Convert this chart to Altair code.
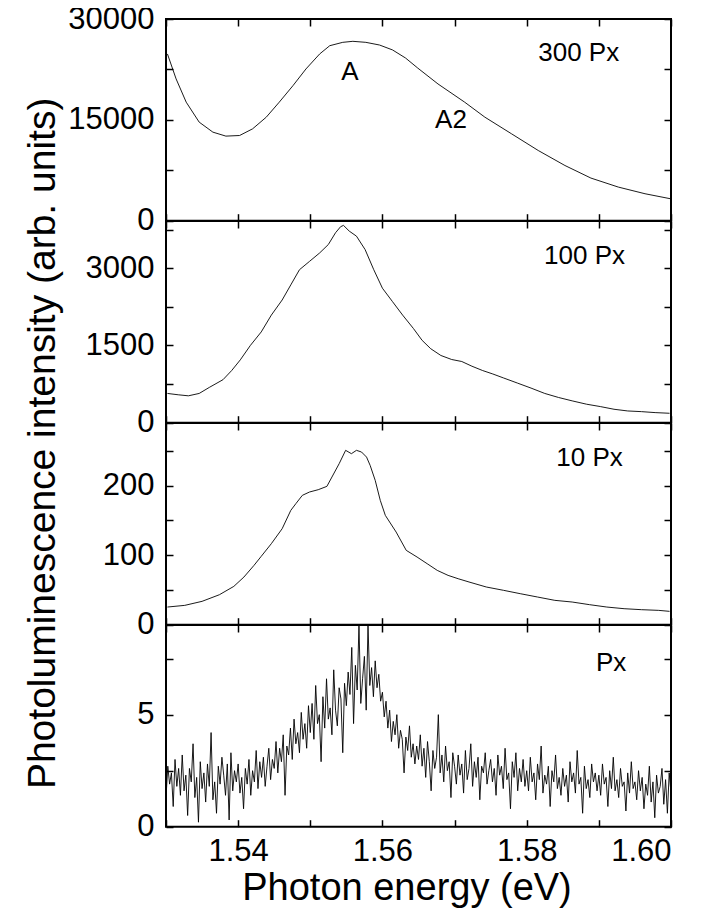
import altair as alt
import numpy as np
import pandas as pd

FONT = "Liberation Sans"
TICK = 7
W = 505
H = 201.7
XDOM = [1.53, 1.60]
XTICKS = [1.53, 1.54, 1.55, 1.56, 1.57, 1.58, 1.59, 1.60]

# ---- 300 Px ----
e300 = [1.5302, 1.5314, 1.5328, 1.5346, 1.5365, 1.5383, 1.5402, 1.5420, 1.5439,
        1.5457, 1.5476, 1.5494, 1.5513, 1.5527, 1.5545, 1.5559, 1.5577, 1.5596,
        1.5614, 1.5632, 1.5649, 1.5677, 1.5714, 1.5742, 1.5779, 1.5816, 1.5853,
        1.5889, 1.5927, 1.5964, 1.5999]
i300 = [24800, 21090, 17630, 14660, 13170, 12580, 12670, 13660, 15400,
        17630, 20090, 22570, 24800, 26030, 26530, 26680, 26530, 26130,
        25400, 24200, 22700, 20340, 17630, 15400, 12920, 10440, 8210,
        6340, 5000, 4010, 3270]

# ---- 100 Px ----
e100 = [1.5302, 1.5317, 1.5331, 1.5346, 1.5360, 1.5379, 1.5391, 1.5403, 1.5417,
        1.5432, 1.5446, 1.5461, 1.5473, 1.5485, 1.5499, 1.5513, 1.5525, 1.5535,
        1.5542, 1.5546, 1.5554, 1.5564, 1.5576, 1.5588, 1.5600, 1.5614, 1.5628,
        1.5643, 1.5655, 1.5667, 1.5681, 1.5696, 1.5710, 1.5724, 1.5739, 1.5753,
        1.5768, 1.5787, 1.5806, 1.5825, 1.5844, 1.5863, 1.5883, 1.5902, 1.5921,
        1.5940, 1.5959, 1.5978, 1.5998]
i100 = [568, 542, 522, 568, 685, 835, 1012, 1220, 1501,
        1762, 2089, 2382, 2676, 2970, 3133, 3296, 3459, 3688,
        3805, 3831, 3720, 3622, 3361, 2970, 2611, 2350, 2089,
        1828, 1599, 1436, 1305, 1227, 1188, 1097, 1012, 946,
        868, 770, 672, 568, 490, 424, 359, 313, 261,
        228, 215, 196, 183]

# ---- 10 Px ----
e10 = [1.5302, 1.5326, 1.5350, 1.5374, 1.5394, 1.5408, 1.5422, 1.5432, 1.5446,
       1.5461, 1.5473, 1.5480, 1.5489, 1.5499, 1.5511, 1.5523, 1.5530, 1.5540,
       1.5549, 1.5557, 1.5564, 1.5571, 1.5578, 1.5583, 1.5590, 1.5597, 1.5604,
       1.5619, 1.5633, 1.5648, 1.5662, 1.5676, 1.5691, 1.5705, 1.5720, 1.5744,
       1.5768, 1.5791, 1.5815, 1.5839, 1.5863, 1.5887, 1.5911, 1.5935, 1.5959,
       1.5983, 1.5998]
i10 = [25.4, 27.8, 33.6, 43.1, 55.1, 68.5, 85.3, 98.3, 116.5,
       138.0, 164.4, 174.0, 186.0, 190.8, 194.1, 198.9, 212.3, 231.5,
       250.7, 245.9, 250.7, 248.3, 241.0, 229.0, 207.5, 178.8, 157.2,
       133.2, 106.9, 97.3, 87.7, 78.1, 70.9, 66.1, 61.4, 54.2,
       49.4, 44.6, 39.8, 35.0, 32.6, 28.8, 25.4, 23.0, 21.6,
       20.6, 19.2]

# ---- Px (single) : sampled every 0.00025 eV from 1.53 ----
i1 = [1.3, 2.7, 1.9, 2.4, 0.9, 3.0, 1.8, 2.6, 1.4, 3.2, 1.6, 2.3, 0.5, 2.6, 2.0, 3.7, 1.3, 2.2, 0.2, 2.9,
      1.7, 2.4, 1.1, 2.8, 1.8, 4.2, 1.2, 2.0, 0.6, 2.7, 1.9, 3.1, 2.3, 1.4, 2.8, 0.3, 3.3, 1.6, 2.5, 2.0,
      2.8, 1.5, 2.2, 0.8, 2.6, 1.9, 3.0, 1.4, 2.5, 2.0, 3.4, 1.7, 2.9, 2.2, 3.1, 1.8, 2.7, 3.5, 2.1, 3.0,
      2.6, 3.8, 2.4, 3.5, 2.9, 4.1, 1.4, 3.6, 3.2, 4.4, 3.0, 4.8, 3.7, 4.2, 3.3, 5.1, 3.9, 4.6, 3.5, 5.4,
      4.2, 5.5, 3.9, 6.3, 4.6, 5.0, 2.9, 5.8, 4.4, 6.6, 4.8, 5.3, 4.1, 7.0, 5.2, 4.5, 6.2, 5.7, 3.3, 6.4,
      5.4, 6.9, 5.9, 8.0, 4.6, 7.2, 6.1, 9.0, 5.5, 6.6, 7.6, 5.2, 9.0, 6.3, 7.1, 5.8, 7.4, 6.2, 6.8, 5.6,
      6.0, 4.9, 5.6, 4.4, 5.2, 3.8, 4.7, 4.1, 5.0, 3.5, 4.3, 3.9, 2.4, 4.0, 3.4, 4.5, 3.1, 3.7, 2.8, 3.6,
      3.0, 4.1, 2.7, 3.5, 2.2, 3.8, 2.9, 1.6, 3.4, 2.6, 3.1, 5.0, 2.4, 3.2, 2.0, 3.6, 2.5, 2.9, 1.3, 3.3,
      2.7, 1.9, 3.2, 2.3, 2.8, 1.5, 3.4, 2.1, 2.6, 3.7, 1.8, 2.9, 2.2, 3.1, 1.2, 2.7, 2.4, 3.3, 1.9, 2.5,
      3.0, 2.0, 2.6, 1.4, 3.2, 2.3, 2.7, 1.7, 3.5, 2.1, 2.4, 0.8, 2.9, 2.2, 3.3, 1.6, 2.6, 2.0, 3.0, 1.8,
      2.5, 1.6, 3.1, 2.0, 2.4, 1.2, 2.8, 2.1, 3.6, 1.5, 2.3, 1.9, 2.7, 0.9, 2.5, 2.0, 3.2, 1.7, 2.2, 1.4,
      2.6, 1.8, 2.3, 1.1, 2.9, 2.0, 2.4, 1.5, 3.4, 1.9, 2.2, 0.6, 2.7, 1.7, 2.1, 1.3, 2.8, 2.0, 2.4, 1.6,
      2.3, 1.4, 2.8, 1.9, 2.2, 0.9, 2.5, 1.7, 3.1, 1.6, 2.1, 1.3, 2.6, 1.8, 2.0, 0.7, 2.4, 1.5, 2.9, 1.7,
      2.0, 1.2, 2.5, 1.6, 2.2, 0.8, 1.9, 1.4, 2.7, 1.1, 2.0, 0.4, 2.3, 1.5, 1.8, 2.6, 1.0, 2.1, 0.6, 2.4, 1.5]
e1 = list(np.round(1.53 + 0.00025 * np.arange(len(i1)), 5))

x_label_expr = "abs(round(datum.value*100) % 2) == 0 ? format(datum.value, '.2f') : ''"


def panel(energy, inten, ymax, yticks, ystep, texts, bottom=False):
    df = pd.DataFrame({"E": energy, "I": inten})
    xs = alt.Scale(domain=XDOM, nice=False, zero=False)
    ys = alt.Scale(domain=[0, ymax], nice=False, zero=False)
    y_label_expr = f"datum.value % {ystep} == 0 ? format(datum.value, 'd') : ''"

    xaxis_b = alt.Axis(orient="bottom", values=XTICKS, offset=-TICK, tickSize=TICK,
                       domain=False, grid=False, labels=bottom, labelExpr=x_label_expr,
                       labelPadding=10, titlePadding=3, titleX=W / 2 - 12,
                       titleAlign="center")
    yaxis_l = alt.Axis(orient="left", values=yticks, offset=-TICK, tickSize=TICK,
                       domain=False, grid=False, labelExpr=y_label_expr, labelPadding=12)
    xaxis_t = alt.Axis(orient="top", values=XTICKS, offset=-TICK, tickSize=TICK,
                       domain=False, grid=False, labels=False)
    yaxis_r = alt.Axis(orient="right", values=yticks, offset=-TICK, tickSize=TICK,
                       domain=False, grid=False, labels=False)

    xtitle = "Photon energy (eV)" if bottom else None
    line = alt.Chart(df).mark_line(color="black", strokeWidth=0.9, clip=True).encode(
        x=alt.X("E:Q", scale=xs, axis=xaxis_b, title=xtitle),
        y=alt.Y("I:Q", scale=ys, axis=yaxis_l, title=None),
    )
    frame = alt.Chart(df).mark_line(opacity=0, clip=True).encode(
        x=alt.X("E:Q", scale=xs, axis=xaxis_t, title=None),
        y=alt.Y("I:Q", scale=ys, axis=yaxis_r, title=None),
    )
    tdf = pd.DataFrame(texts, columns=["E", "I", "t", "align"])
    layers = [line, frame]
    for al in ["left", "center"]:
        sub = tdf[tdf["align"] == al]
        if len(sub):
            layers.append(
                alt.Chart(sub).mark_text(font=FONT, fontSize=26, color="black",
                                         align=al, baseline="middle").encode(
                    x=alt.X("E:Q", scale=xs, axis=None),
                    y=alt.Y("I:Q", scale=ys, axis=None),
                    text="t:N",
                )
            )
    return alt.layer(*layers).resolve_axis(x="independent", y="independent").properties(
        width=W, height=H)


p1 = panel(e300, i300, 30000, [0, 7500, 15000, 22500, 30000], 15000,
           [[1.5816, 24950, "300 Px", "left"], [1.5555, 22130, "A", "center"],
            [1.5695, 15000, "A2", "center"]])
p2 = panel(e100, i100, 3916, [0, 750, 1500, 2250, 3000, 3750], 1500,
           [[1.5824, 3234, "100 Px", "left"]])
p3 = panel(e10, i10, 290, [0, 50, 100, 150, 200, 250], 100,
           [[1.5841, 240, "10 Px", "left"]])
p4 = panel(e1, i1, 9, [0, 2.5, 5, 7.5], 5,
           [[1.5896, 7.3, "Px", "left"]], bottom=True)

chart = alt.vconcat(p1, p2, p3, p4, spacing=0, bounds="flush").properties(
    title=alt.TitleParams(text="Photoluminescence intensity (arb. units)", orient="left",
                          anchor="middle", fontSize=39, font=FONT, fontWeight="normal",
                          color="black", offset=4, dx=12),
    padding={"left": 15, "top": -6, "right": 5, "bottom": 5},
).configure_view(stroke="black", strokeWidth=2).configure_axis(
    labelFont=FONT, labelFontSize=31, labelColor="black", tickColor="black",
    tickWidth=1.5, titleFont=FONT, titleFontSize=38, titleFontWeight="normal",
    titleColor="black",
)

chart.save("out.html", embed_options={"renderer": "svg", "actions": False})
